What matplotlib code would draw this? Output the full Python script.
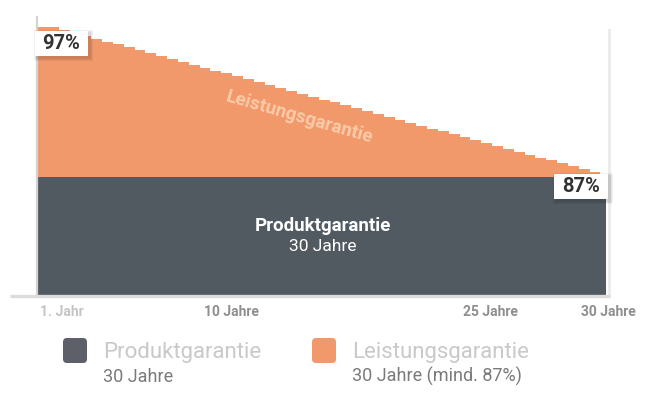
import numpy as np
import matplotlib
matplotlib.use("Agg")
import matplotlib.pyplot as plt
from matplotlib.patches import Rectangle, FancyBboxPatch
from matplotlib.transforms import IdentityTransform

# ---------------- data ----------------
performance_pct = [97.0, 97.0, 96.8, 96.6, 96.4, 96.2, 96.0, 95.8, 95.6, 95.4, 95.2,
                   95.0, 94.8, 94.6, 94.4, 94.2, 94.0, 93.8, 93.6, 93.4, 93.2,
                   93.0, 92.8, 92.6, 92.4, 92.2, 92.0, 91.8, 91.6, 91.4, 91.2,
                   91.0, 90.8, 90.6, 90.4, 90.2, 90.0, 89.8, 89.6, 89.4, 89.2,
                   89.0, 88.8, 88.6, 88.4, 88.2, 88.0, 87.8, 87.6, 87.4, 87.2, 87.0]
product_years = 30
start_label = "97%"
end_label = "87%"
tick_labels = ["1. Jahr", "10 Jahre", "25 Jahre", "30 Jahre"]
legend_titles = ["Produktgarantie", "Leistungsgarantie"]
legend_subs = ["30 Jahre", "30 Jahre (mind. 87%)"]

# ---------------- style / layout ----------------
ORANGE = "#F2996B"
DARK = "#525A61"
FONT = "Roboto"
W, H = 650, 400
tick_pos = [1.3, 10.2, 23.8, 30.0]

fig = plt.figure(figsize=(6.5, 4), dpi=100)
ax = fig.add_axes([37 / W, (H - 296) / H, (608 - 37) / W, (296 - 17) / H])
ymin, ymax = 78.45, 97.69
ax.set_xlim(0, 30)
ax.set_ylim(ymin, ymax)
ax.axis("off")

# orange stepped area (performance guarantee)
vals = np.array(performance_pct)
edges = np.linspace(0, 29.6, len(vals) + 1)
ax.fill_between(edges, np.r_[vals, vals[-1]], ymin, step="post",
                color=ORANGE, lw=0, zorder=2)
# dark band (product guarantee)
ax.fill_between([0.05, product_years - 0.1], ymin, 86.65, color=DARK, lw=0, zorder=3)

# frame lines
ax.plot([-1.42, 30.1], [ymin - 0.03, ymin - 0.03], color="#DCDCDC", lw=2.4,
        solid_capstyle="butt", clip_on=False, zorder=5)
ax.plot([0, 0], [ymin, ymax], color="#D2D2D2", lw=1.6, clip_on=False, zorder=4)
ax.plot([30.05, 30.05], [ymin, 96.8], color="#ECECEC", lw=2.2, clip_on=False, zorder=1)

# texts inside chart
ax.text(15, 83.25, "Produktgarantie", color="white", fontsize=13.5, fontweight="bold",
        family=FONT, ha="center", va="center", zorder=6)
ax.text(15, 81.85, "30 Jahre", color="white", fontsize=12.5,
        family=FONT, ha="center", va="center", zorder=6)
ax.text(13.8, 90.8, "Leistungsgarantie", color="#FACBA9", fontsize=13.5, fontweight="bold",
        family=FONT, ha="center", va="center", rotation=-16, rotation_mode="anchor", zorder=6)

fig.canvas.draw()


def px_rect(x0, y0, x1, y1, **kw):
    """rectangle given in display pixels (origin bottom-left)"""
    r = Rectangle((x0, y0), x1 - x0, y1 - y0, transform=IdentityTransform(), **kw)
    fig.add_artist(r)
    return r


def value_box(xd, yd, dx0, dy0, dx1, dy1, label):
    ax_, ay_ = ax.transData.transform((xd, yd))
    x0, x1 = ax_ + dx0, ax_ + dx1
    y0, y1 = ay_ - dy1, ay_ - dy0
    for i, a in enumerate([0.05, 0.05, 0.06]):
        g = 3 - i
        px_rect(x0 - g + 1.5, y0 - g - 1.5, x1 + g + 1.5, y1 + g - 1.5,
                facecolor="black", alpha=a, lw=0, zorder=7)
    px_rect(x0, y0, x1, y1, facecolor="white", lw=0, zorder=8)
    fig.text((x0 + x1) / 2 / W, (y0 + y1) / 2 / H, label, fontsize=14.5, fontweight="bold",
             color="#333333", family=FONT, ha="center", va="center", zorder=9)


value_box(0, vals[0], -2, 4, 51, 29, start_label)
value_box(30, vals[-1], -54, 2, 0, 27, end_label)

# x tick labels
tick_colors = ["#C4C4C4", "#8E8E8E", "#8E8E8E", "#8E8E8E"]
for p, lab, c in zip(tick_pos, tick_labels, tick_colors):
    ax.annotate(lab, xy=(p, ymin), xytext=(0, -16), textcoords="offset pixels",
                ha="center", va="center", fontsize=10, fontweight="bold", color=c,
                family=FONT, annotation_clip=False)

# legend
leg_colors = ["#5D6068", ORANGE]
leg_x = [63, 312]
for lx, col, t, s in zip(leg_x, leg_colors, legend_titles, legend_subs):
    sq = FancyBboxPatch((lx, H - 363), 24, 25, boxstyle="round,pad=0,rounding_size=4",
                        transform=IdentityTransform(), facecolor=col, lw=0)
    fig.add_artist(sq)
    fig.text((lx + 40) / W, (H - 358) / H, t, fontsize=16, color="#C9C9C9",
             family=FONT, ha="left", va="baseline")
    fig.text((lx + 40) / W, (H - 382) / H, s, fontsize=13, color="#7A7A7A",
             family=FONT, ha="left", va="baseline")

fig.savefig("out.png", dpi=100)
